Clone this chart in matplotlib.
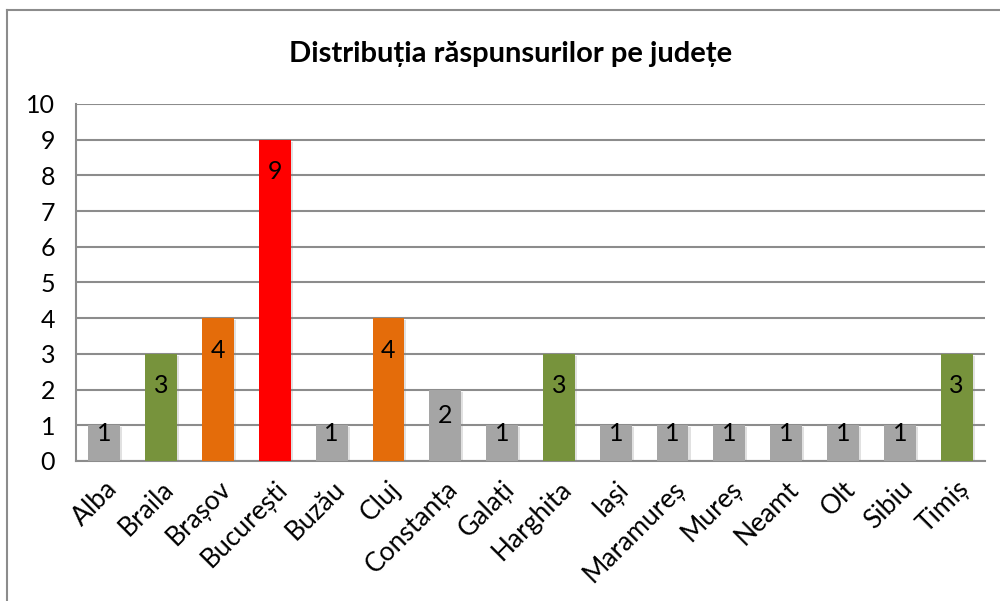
import matplotlib.pyplot as plt
import matplotlib.patheffects as pe
from matplotlib.lines import Line2D

plt.rcParams['font.family'] = ['Lato', 'DejaVu Sans']

# data
judete = ['Alba', 'Braila', 'Brașov', 'București', 'Buzău', 'Cluj', 'Constanța', 'Galați',
          'Harghita', 'Iași', 'Maramureș', 'Mureș', 'Neamt', 'Olt', 'Sibiu', 'Timiș']
raspunsuri = [1, 3, 4, 9, 1, 4, 2, 1, 3, 1, 1, 1, 1, 1, 1, 3]

# colour per count
culori = {1: '#A5A5A5', 2: '#A5A5A5', 3: '#77933C', 4: '#E46C0A', 9: '#FF0000'}

fig = plt.figure(figsize=(10, 6.01), dpi=100)
ax = fig.add_axes([0.076, 0.233, 0.909, 0.594])

x = list(range(len(judete)))
bars = ax.bar(x, raspunsuri, width=0.56, color=[culori[v] for v in raspunsuri], zorder=3)
for b in bars:
    b.set_path_effects([pe.SimplePatchShadow(offset=(1.5, -1.5), shadow_rgbFace='#888888', alpha=0.25),
                        pe.Normal()])

# value labels, inside the top of each bar
for xi, v in zip(x, raspunsuri):
    y = v - 0.9 if v >= 3 else v * 0.5 + 0.26
    ax.text(xi, y, str(v), ha='center', va='center', fontsize=18, zorder=4)

ax.set_xlim(-0.5, len(judete) - 0.5)
ax.set_ylim(0, 10)
ax.set_yticks(range(0, 11))
ax.yaxis.grid(True, color='#8C8C8C', linewidth=1.5, zorder=0)
ax.set_axisbelow(True)
for s in ['top', 'right']:
    ax.spines[s].set_visible(False)
for s in ['left', 'bottom']:
    ax.spines[s].set_color('#8C8C8C')
    ax.spines[s].set_linewidth(1.5)
ax.tick_params(axis='y', length=0, pad=15, labelsize=18)
ax.tick_params(axis='x', length=0, pad=11, labelsize=19)
ax.set_xticks(x)
ax.set_xticklabels(judete, rotation=45, ha='right', rotation_mode='anchor')

fig.text(0.511, 0.91, 'Distribuția răspunsurilor pe județe', ha='center', va='center',
         fontsize=21, fontweight='bold')

# outer chart frame
fig.add_artist(Line2D([0.007, 0.007], [0, 1 - 10 / 601], color='#8C8C8C', linewidth=1.5))
fig.add_artist(Line2D([0.007, 1], [1 - 10 / 601, 1 - 10 / 601], color='#8C8C8C', linewidth=1.5))

fig.savefig('out.png', dpi=100)
